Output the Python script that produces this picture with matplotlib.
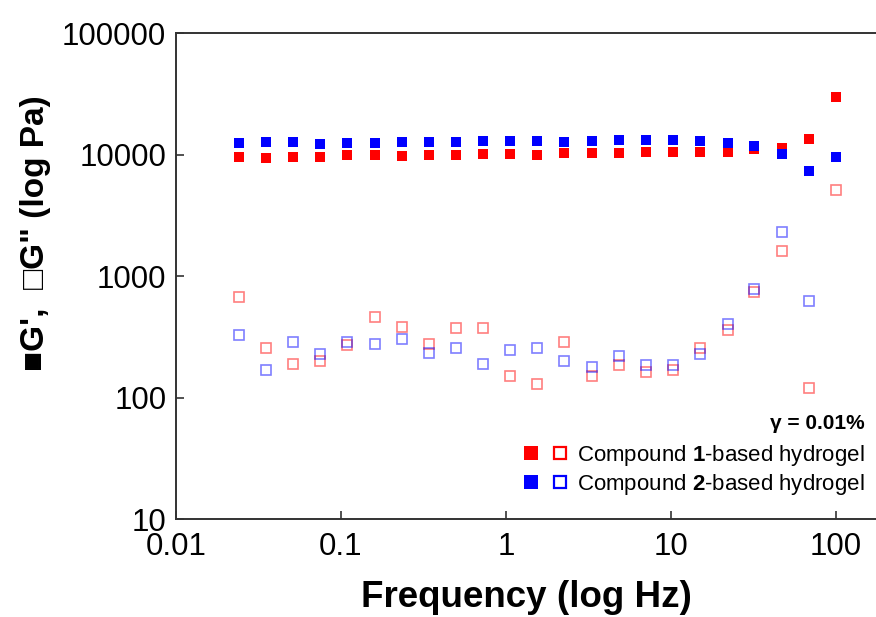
import numpy as np
import matplotlib
matplotlib.use("Agg")
from matplotlib import pyplot as plt
from matplotlib.lines import Line2D
from matplotlib.legend_handler import HandlerTuple

plt.rcParams['font.family'] = ['Liberation Sans', 'DejaVu Sans']
plt.rcParams['mathtext.fontset'] = 'custom'
plt.rcParams['mathtext.rm'] = 'Liberation Sans'
plt.rcParams['mathtext.bf'] = 'Liberation Sans:bold'

# frequency sweep (Hz)
freq = [0.0241, 0.0351, 0.0511, 0.0746, 0.109, 0.161, 0.234, 0.341, 0.498, 0.726,
        1.06, 1.54, 2.25, 3.32, 4.84, 7.05, 10.3, 15.0, 22.1, 31.8, 47.1, 68.6, 100]

# compound 1 hydrogel
g1_storage = [9520, 9340, 9570, 9460, 9890, 9830, 9760, 9830, 9830, 10020,
              10020, 9960, 10210, 10210, 10270, 10400, 10400, 10400, 10520, 11070,
              11220, 13400, 29570]
g1_loss = [676, 255, 190, 198, 268, 463, 383, 277, 373, 375,
           150, 128, 284, 151, 186, 161, 169, 258, 361, 738,
           1607, 119, 5117]

# compound 2 hydrogel
g2_storage = [12480, 12590, 12590, 12180, 12410, 12480, 12590, 12650, 12650, 12820,
              12890, 12820, 12730, 12970, 13070, 13070, 13070, 12820, 12410, 11730,
              10070, 7300, 9460]
g2_loss = [324, 170, 286, 228, 286, 275, 301, 232, 255, 187,
           244, 255, 199, 179, 221, 185, 185, 230, 405, 781,
           2293, 622, np.nan]

red = '#ff0000'
blue = '#0000ff'

fig = plt.figure(figsize=(8.76, 6.17), dpi=100)
ax = fig.add_axes([0.2009, 0.1588, 0.7991, 0.7877])

ax.plot(freq, g1_loss, 's', ms=7.2, mfc='none', mec=red, mew=1.2, alpha=0.5, ls='none')
ax.plot(freq, g2_loss, 's', ms=7.2, mfc='none', mec=blue, mew=1.2, alpha=0.5, ls='none')
ax.plot(freq, g1_storage, 's', ms=7.2, color=red, mew=0, ls='none')
ax.plot(freq, g2_storage, 's', ms=7.2, color=blue, mew=0, ls='none')

ax.set_xscale('log')
ax.set_yscale('log')
ax.set_xlim(0.01, 174.8)
ax.set_ylim(10, 100000)

ax.set_xticks([0.01, 0.1, 1, 10, 100], ['0.01', '0.1', '1', '10', '100'])
ax.set_yticks([10, 100, 1000, 10000, 100000], ['10', '100', '1000', '10000', '100000'])
ax.minorticks_off()
ax.tick_params(direction='in', length=6, width=1.2, labelsize=22.5, color='#333333')
ax.tick_params(axis='x', pad=9)
ax.tick_params(axis='y', pad=7)

for side in ['left', 'bottom', 'top']:
    ax.spines[side].set_linewidth(1.4)
    ax.spines[side].set_color('#333333')
ax.spines['right'].set_visible(False)

ax.set_xlabel('Frequency (log Hz)', fontsize=26.5, fontweight='bold', labelpad=13)
ax.set_ylabel('\u25a0G\',  \u25a1G" (log Pa)', fontsize=24, fontweight='bold',
              family=['Liberation Sans', 'DejaVu Sans'])
ax.yaxis.set_label_coords(-0.178, 0.588)

ax.text(0.984, 0.1975, '\u03b3 = 0.01%', transform=ax.transAxes, ha='right', va='center',
        fontsize=15, fontweight='bold')

h1 = (Line2D([], [], marker='s', ls='none', ms=10, color=red, mew=0),
      Line2D([], [], marker='s', ls='none', ms=9, mfc='none', mec=red, mew=1.6))
h2 = (Line2D([], [], marker='s', ls='none', ms=10, color=blue, mew=0),
      Line2D([], [], marker='s', ls='none', ms=9, mfc='none', mec=blue, mew=1.6))
ax.legend([h1, h2], ['Compound $\\mathbf{1}$-based hydrogel', 'Compound $\\mathbf{2}$-based hydrogel'],
          handler_map={tuple: HandlerTuple(ndivide=None, pad=0.6)},
          loc='lower right', bbox_to_anchor=(1.0, 0.022), frameon=False, fontsize=16,
          handlelength=2.0, handletextpad=0.45, labelspacing=0.2, borderpad=0)

fig.savefig('out.png', dpi=100)
